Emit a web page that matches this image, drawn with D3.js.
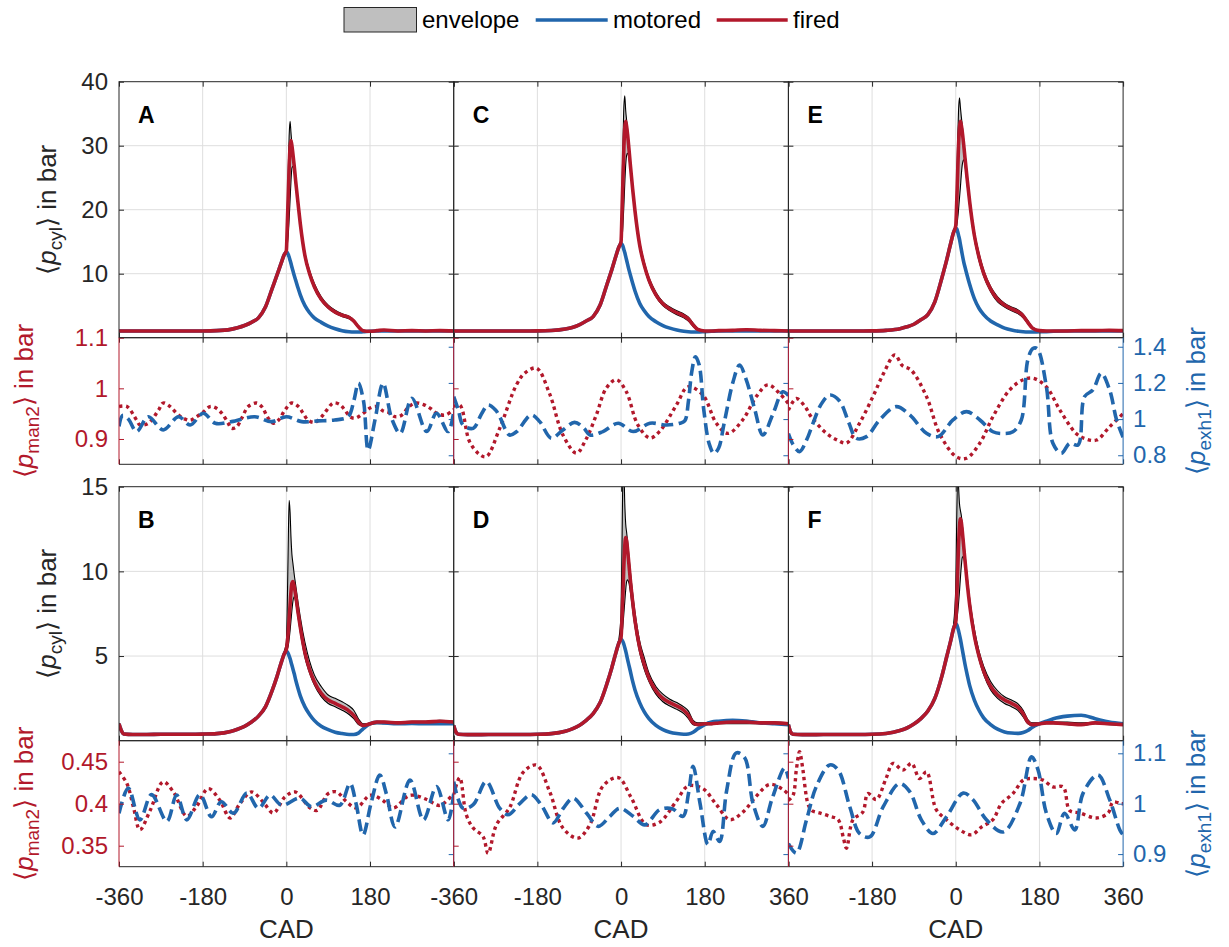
<!DOCTYPE html>
<html><head><meta charset="utf-8">
<script src="https://cdn.jsdelivr.net/npm/d3@7"></script>
<style>body{margin:0;background:#fff}svg{display:block}text{font-family:"Liberation Sans",Arial,Helvetica,sans-serif}</style>
</head><body><svg id="c" width="1229" height="947"></svg>
<script>
// ---------------- DATA ----------------
const CAD = [-360,-355,-350,-330,-300,-270,-240,-210,-180,-150,-120,-105,-90,-75,-60,-45,-30,-20,-10,-5,0,2,4,6,8,10,12,14,17,20,25,30,40,50,60,75,90,105,120,135,145,155,165,180,195,210,240,270,300,330,360];
const xTickValues = [-360,-180,0,180,360];
const panelLetters = ["A","C","E","B","D","F"];
const cylTicks = [[10,20,30,40],[5,10,15]];
const manTicks = [[0.9,1,1.1],[0.35,0.4,0.45]];
const exhTicks = [[0.8,1,1.2,1.4],[0.9,1,1.1]];
const cylDomain = [[0,40],[0,15]];
const manDomain = [[0.85,1.1],[0.325,0.475]];
const exhDomain = [[0.75,1.45],[0.875,1.125]];
const legendLabels = ["envelope","motored","fired"];

// Panel A
const motA = [1.05,1.05,1.05,1.04,1.04,1.04,1.04,1.04,1.05,1.1, 1.3,1.55,1.9,2.4,3.1,4.8,7.8,9.8,11.9,12.9, 13.4,13.3,13.0,12.6,12.1,11.6,11.0,10.5,9.7,9.0, 7.8,6.7,5.0,3.9,3.1,2.4,1.8,1.4,1.1,0.93, 0.88,0.88,0.92,1.0,1.05,1.06,1.05,1.05,1.04,1.05, 1.05];
const firA = [1.05,1.05,1.05,1.04,1.04,1.04,1.04,1.04,1.05,1.1, 1.3,1.55,1.9,2.4,3.1,4.8,7.8,9.8,11.9,12.9, 13.6,17.5,22,26.5,29.8,30.8,30,28.8,26.8,24.5, 21.1,17.8,12.8,10.0,8.0,6.0,4.8,4.0,3.5,3.15, 2.6,1.7,1.1,1.0,1.1,1.2,1.05,1.1,1.05,1.1, 1.05];
const envHiA = [1.07,1.07,1.07,1.06,1.06,1.06,1.06,1.06,1.07,1.12, 1.32,1.57,1.93,2.45,3.15,4.9,7.9,9.9,12.0,13.0, 14,20,26,31.5,33.8,32,30.2,29,27.2,25, 21.6,18.3,13.3,10.5,8.5,6.4,5.1,4.3,3.75,3.35, 2.8,1.9,1.2,1.05,1.15,1.25,1.1,1.15,1.1,1.15, 1.1];
const envLoA = [1.03,1.03,1.03,1.02,1.02,1.02,1.02,1.02,1.03,1.08, 1.28,1.52,1.87,2.35,3.05,4.7,7.7,9.7,11.8,12.8, 13.4,14.5,16,18.5,21.5,24.5,26.5,26.8,25.8,23.8, 20.6,17.3,12.4,9.7,7.7,5.8,4.6,3.8,3.3,2.95, 2.4,1.55,1.05,0.98,1.05,1.15,1.0,1.05,1.0,1.05, 1.0];
const manA = [[-360,0.964],[-343,0.964],[-322,0.937],[-315,0.928],[-297,0.931],[-275,0.957],[-265,0.971],[-250,0.964],[-236,0.951],[-222,0.941],[-207,0.937],[-193,0.944],[-179,0.953],[-164,0.964],[-153,0.962],[-139,0.951],[-125,0.931],[-118,0.921],[-107,0.924],[-96,0.941],[-82,0.964],[-64,0.971],[-53,0.964],[-39,0.941],[-28,0.931],[-17,0.937],[-3,0.957],[11,0.971],[26,0.964],[36,0.951],[47,0.937],[62,0.933],[76,0.944],[87,0.957],[101,0.971],[115,0.968],[126,0.957],[137,0.944],[148,0.941],[166,0.951],[180,0.961],[194,0.964],[209,0.955],[219,0.953],[234,0.944],[248,0.947],[262,0.962],[277,0.971],[295,0.968],[309,0.961],[323,0.951],[341,0.947],[356,0.955],[360,0.958]];
const exhA = [[-360,0.96],[-352,1.02],[-340,1.0],[-322,0.931],[-297,1.013],[-265,0.94],[-232,1.013],[-207,0.967],[-179,1.032],[-153,0.977],[-118,0.986],[-68,1.013],[-32,0.986],[0,1.013],[33,0.986],[68,0.99],[104,0.995],[133,1.013],[145,1.1],[155,1.198],[166,1.1],[176,0.829],[191,1.0],[208,1.198],[227,1.0],[245,0.921],[270,1.115],[302,0.931],[323,1.032],[348,0.931],[360,1.04]];

// Panel C
const motC = [1.05,1.05,1.05,1.05,1.05,1.05,1.05,1.05,1.06,1.12, 1.35,1.6,2.0,2.6,3.3,5.1,8.4,10.6,13.0,14.1, 14.7,14.6,14.3,13.8,13.3,12.7,12.1,11.5,10.6,9.8, 8.5,7.3,5.4,4.2,3.3,2.5,1.9,1.5,1.2,1.0, 0.93,0.9,0.9,0.95,1.0,1.05,1.05,1.06,1.05,1.05, 1.05];
const firC = [1.05,1.05,1.05,1.05,1.05,1.05,1.05,1.05,1.06,1.12, 1.35,1.6,2.0,2.6,3.3,5.1,8.4,10.6,13.0,14.1, 15.0,19.5,24.5,29.5,32.8,33.8,33,31.8,29.5,27, 23.2,19.8,14.5,11.3,9.0,6.7,5.3,4.5,3.9,3.4, 2.9,2.0,1.3,1.05,1.05,1.1,1.15,1.25,1.15,1.1, 1.05];
const envHiC = [1.07,1.07,1.07,1.07,1.07,1.07,1.07,1.07,1.08,1.14, 1.37,1.63,2.05,2.65,3.35,5.2,8.5,10.7,13.1,14.3, 15.5,23,30,36,37.8,35.5,34,32.6,30.3,27.6, 23.8,20.4,15.0,11.8,9.4,7.1,5.6,4.8,4.2,3.7, 3.2,2.3,1.45,1.1,1.12,1.18,1.22,1.32,1.22,1.15, 1.1];
const envLoC = [1.03,1.03,1.03,1.03,1.03,1.03,1.03,1.03,1.04,1.1, 1.33,1.57,1.95,2.55,3.25,5.0,8.3,10.5,12.9,14.0, 14.7,15.5,17.5,20.5,24,27,28.5,28.8,28,26.2, 22.6,19.2,14.0,10.9,8.6,6.4,5.0,4.2,3.6,3.1, 2.6,1.75,1.15,1.0,1.0,1.05,1.1,1.18,1.1,1.05, 1.0];
const manC = [[-360,0.964],[-347,0.967],[-326,0.895],[-305,0.87],[-290,0.865],[-261,0.921],[-225,1.007],[-207,1.03],[-182,1.04],[-154,0.99],[-125,0.908],[-96,0.872],[-75,0.9],[-53,0.948],[-32,1.0],[-10,1.017],[11,0.994],[36,0.928],[62,0.902],[83,0.915],[119,0.967],[144,1.003],[176,0.987],[205,0.931],[230,0.911],[262,0.938],[291,0.984],[316,1.007],[341,0.99],[360,0.97]];
const exhC = [[-360,1.124],[-350,1.05],[-340,0.967],[-318,0.949],[-300,1.03],[-286,1.078],[-270,1.05],[-261,1.013],[-240,0.912],[-225,0.93],[-193,1.023],[-175,0.986],[-150,0.894],[-125,0.94],[-100,0.982],[-80,0.95],[-67,0.912],[-39,0.931],[-6,0.977],[26,0.931],[62,0.977],[98,0.967],[126,0.977],[137,0.99],[145,1.1],[152,1.26],[160,1.345],[168,1.3],[178,1.05],[190,0.86],[200,0.81],[210,0.84],[222,0.98],[241,1.207],[255,1.299],[269,1.22],[287,1.06],[305,0.912],[327,1.03],[348,1.151],[360,1.13]];

// Panel E
const motE = [1.05,1.05,1.05,1.05,1.05,1.05,1.05,1.05,1.07,1.15, 1.4,1.7,2.1,2.8,3.6,5.6,9.3,12.0,15.0,16.4, 17.1,17.0,16.6,16.0,15.4,14.6,13.8,13.0,11.9,11.0, 9.6,8.3,6.1,4.6,3.6,2.6,2.0,1.5,1.2,1.0, 0.92,0.88,0.88,0.92,0.95,1.0,1.05,1.05,1.05,1.05, 1.05];
const firE = [1.05,1.05,1.05,1.05,1.05,1.05,1.05,1.05,1.07,1.15, 1.4,1.7,2.1,2.8,3.6,5.6,9.3,12.0,15.0,16.4, 17.5,21,25.5,30,32.8,33.8,33.2,32.2,30.2,28, 24.5,21.2,16.0,12.6,10.1,7.6,6.0,5.1,4.5,4.0, 3.4,2.4,1.5,1.1,1.05,1.05,1.05,1.1,1.1,1.15, 1.1];
const envHiE = [1.07,1.07,1.07,1.07,1.07,1.07,1.07,1.07,1.09,1.17, 1.42,1.73,2.15,2.85,3.65,5.7,9.4,12.1,15.1,16.6, 18,24,30.5,35.5,37.5,36,34.5,33.2,31,28.8, 25.2,21.9,16.6,13.2,10.6,8.0,6.4,5.4,4.8,4.3, 3.7,2.7,1.7,1.2,1.1,1.1,1.1,1.15,1.15,1.2, 1.15];
const envLoE = [1.03,1.03,1.03,1.03,1.03,1.03,1.03,1.03,1.05,1.13, 1.38,1.67,2.05,2.75,3.55,5.5,9.2,11.9,14.9,16.3, 17.1,17.5,18.5,20,21.8,23.5,25.5,27,27.8,26.8, 23.6,20.5,15.4,12.0,9.6,7.2,5.6,4.8,4.2,3.7, 3.1,2.2,1.35,1.0,1.0,1.0,1.0,1.05,1.05,1.1, 1.05];
const manE = [[-360,0.957],[-343,0.98],[-325,0.965],[-311,0.944],[-278,0.911],[-255,0.898],[-235,0.892],[-207,0.931],[-178,0.984],[-155,1.03],[-131,1.066],[-115,1.045],[-96,1.036],[-63,0.984],[-35,0.911],[1,0.865],[23,0.862],[52,0.892],[80,0.944],[116,0.997],[145,1.017],[166,1.02],[195,1.003],[224,0.957],[259,0.911],[280,0.9],[303,0.898],[331,0.924],[360,0.95]];
const exhE = [[-360,0.92],[-350,0.86],[-336,0.82],[-320,0.89],[-307,0.977],[-290,1.08],[-271,1.133],[-250,1.1],[-230,0.98],[-214,0.894],[-192,0.903],[-164,0.995],[-128,1.069],[-99,1.023],[-63,0.922],[-38,0.903],[-6,0.995],[23,1.041],[52,0.995],[80,0.93],[100,0.92],[123,0.93],[141,0.995],[155,1.327],[166,1.39],[175,1.39],[195,1.179],[209,0.866],[227,0.811],[245,0.866],[263,0.857],[277,1.124],[295,1.161],[313,1.253],[331,1.161],[346,0.995],[360,0.9]];

// Panel B
const motB = [1.0,0.6,0.4,0.37,0.37,0.38,0.38,0.38,0.39,0.42, 0.55,0.68,0.85,1.1,1.45,2.0,3.0,3.8,4.7,5.1, 5.3,5.25,5.15,5.0,4.85,4.65,4.45,4.25,3.95,3.6, 3.1,2.65,2.0,1.55,1.2,0.85,0.65,0.5,0.42,0.37, 0.37,0.45,0.7,1.0,1.08,1.05,1.0,1.02,1.0,1.0, 1.0];
const firB = [1.0,0.6,0.4,0.37,0.37,0.38,0.38,0.38,0.39,0.42, 0.55,0.68,0.85,1.1,1.45,2.0,3.0,3.8,4.7,5.1, 5.4,5.8,6.4,7.2,8.0,8.8,9.3,9.4,9.1,8.6, 7.6,6.7,5.2,4.2,3.5,2.8,2.4,2.2,2.0,1.75, 1.5,1.1,0.9,1.0,1.1,1.1,1.05,1.1,1.1,1.15, 1.1];
const envHiB = [1.05,0.65,0.42,0.39,0.39,0.4,0.4,0.4,0.41,0.45, 0.58,0.72,0.9,1.15,1.5,2.1,3.1,3.9,4.8,5.25, 5.8,8,11.5,14.2,13.5,12,11,10.5,9.8,9.2, 8.2,7.3,5.8,4.7,3.9,3.2,2.7,2.5,2.3,2.05, 1.8,1.3,1.0,1.05,1.15,1.15,1.1,1.15,1.15,1.2, 1.15];
const envLoB = [0.95,0.55,0.38,0.35,0.35,0.36,0.36,0.36,0.37,0.4, 0.52,0.65,0.8,1.05,1.4,1.9,2.9,3.7,4.6,5.0, 5.3,5.4,5.6,6.0,6.5,7.1,7.7,8.2,8.5,8.2, 7.3,6.4,4.9,4.0,3.3,2.6,2.2,2.0,1.8,1.55, 1.3,0.95,0.85,0.95,1.0,1.0,1.0,1.0,1.0,1.05, 1.0];
const manB = [[-360,0.438],[-343,0.424],[-329,0.396],[-315,0.369],[-293,0.392],[-265,0.426],[-243,0.414],[-214,0.385],[-193,0.397],[-168,0.418],[-143,0.404],[-121,0.383],[-100,0.4],[-75,0.414],[-50,0.402],[-28,0.389],[-3,0.408],[19,0.414],[51,0.395],[66,0.392],[90,0.412],[108,0.414],[130,0.402],[151,0.395],[180,0.41],[205,0.405],[230,0.395],[266,0.41],[302,0.405],[330,0.398],[360,0.412]];
const exhB = [[-360,0.981],[-340,1.031],[-315,0.968],[-290,1.018],[-257,0.965],[-236,1.017],[-214,0.968],[-186,1.018],[-161,0.974],[-140,1.004],[-114,0.981],[-85,1.021],[-60,0.991],[-35,1.017],[-10,0.997],[29,1.011],[54,0.994],[86,1.007],[115,0.997],[137,1.04],[150,1.0],[165,0.938],[182,1.0],[201,1.057],[215,1.02],[234,0.954],[266,1.047],[295,0.968],[323,1.034],[348,0.968],[360,1.02]];

// Panel D
const motD = [0.9,0.5,0.38,0.36,0.36,0.37,0.37,0.37,0.38,0.42, 0.56,0.7,0.9,1.2,1.6,2.25,3.4,4.3,5.3,5.75, 6.0,5.95,5.85,5.7,5.5,5.3,5.05,4.8,4.45,4.1, 3.5,3.0,2.25,1.7,1.3,0.9,0.65,0.5,0.42,0.38, 0.4,0.5,0.7,0.95,1.1,1.15,1.2,1.15,1.05,1.0, 0.95];
const firD = [0.9,0.5,0.38,0.36,0.36,0.37,0.37,0.37,0.38,0.42, 0.56,0.7,0.9,1.2,1.6,2.25,3.4,4.3,5.3,5.75, 6.1,7.2,8.7,10.3,11.5,12.0,11.8,11.3,10.4,9.5, 8.2,7.1,5.5,4.5,3.7,2.95,2.5,2.25,2.05,1.8, 1.5,1.05,0.95,1.0,1.0,1.05,1.1,1.1,1.05,1.05, 1.0];
const envHiD = [0.95,0.55,0.4,0.38,0.38,0.39,0.39,0.39,0.4,0.45, 0.6,0.74,0.95,1.25,1.65,2.35,3.5,4.4,5.45,5.95, 7.5,11.5,15.5,16,14,12.8,12.3,11.8,10.9,10.0, 8.7,7.6,5.9,4.9,4.0,3.2,2.75,2.45,2.25,2.0, 1.75,1.2,1.05,1.05,1.1,1.15,1.2,1.2,1.1,1.1, 1.05];
const envLoD = [0.85,0.45,0.36,0.34,0.34,0.35,0.35,0.35,0.36,0.4, 0.53,0.66,0.85,1.15,1.55,2.15,3.3,4.2,5.2,5.65, 6.0,6.3,6.8,7.5,8.2,8.9,9.4,9.5,9.3,8.8, 7.7,6.7,5.2,4.2,3.5,2.75,2.3,2.05,1.85,1.6, 1.3,0.95,0.9,0.95,0.95,1.0,1.0,1.0,1.0,1.0, 0.95];
const manD = [[-360,0.411],[-347,0.431],[-333,0.387],[-318,0.371],[-297,0.361],[-286,0.341],[-268,0.375],[-240,0.395],[-211,0.437],[-182,0.446],[-154,0.415],[-125,0.371],[-93,0.359],[-67,0.375],[-39,0.421],[-6,0.431],[22,0.407],[54,0.375],[83,0.378],[119,0.403],[144,0.421],[176,0.418],[205,0.399],[234,0.381],[262,0.39],[291,0.409],[320,0.423],[348,0.417],[360,0.411]];
const exhD = [[-360,1.044],[-340,0.991],[-318,0.998],[-290,1.044],[-261,0.991],[-243,0.978],[-218,1.0],[-193,1.018],[-172,0.998],[-146,0.962],[-125,0.99],[-103,1.011],[-74,0.981],[-49,0.955],[-24,0.975],[-3,0.991],[26,0.975],[51,0.958],[83,0.988],[110,0.99],[133,0.975],[145,1.02],[155,1.074],[170,1.0],[187,0.919],[198,0.945],[212,0.925],[227,1.025],[248,1.101],[266,1.091],[284,1.0],[305,0.955],[325,1.01],[352,1.071],[360,1.05]];

// Panel F
const motF = [0.95,0.5,0.38,0.36,0.36,0.37,0.37,0.37,0.38,0.43, 0.6,0.75,0.98,1.3,1.75,2.5,3.8,4.9,6.0,6.6, 6.9,6.85,6.7,6.5,6.25,6.0,5.7,5.4,4.95,4.5, 3.85,3.25,2.4,1.8,1.35,0.95,0.68,0.52,0.45,0.43, 0.48,0.6,0.8,1.0,1.15,1.3,1.45,1.5,1.3,1.1, 1.0];
const firF = [0.95,0.5,0.38,0.36,0.36,0.37,0.37,0.37,0.38,0.43, 0.6,0.75,0.98,1.3,1.75,2.5,3.8,4.9,6.0,6.6, 7.0,8.3,9.9,11.5,12.6,13.1,12.9,12.4,11.5,10.6, 9.2,8.0,6.2,5.0,4.1,3.2,2.7,2.4,2.2,1.95, 1.6,1.1,0.95,1.0,1.05,1.05,1.0,0.95,1.05,1.0, 0.95];
const envHiF = [1.0,0.55,0.4,0.38,0.38,0.39,0.39,0.39,0.4,0.46, 0.63,0.78,1.02,1.35,1.8,2.6,3.9,5.0,6.15,6.8, 9,13,15.5,15,14,13.6,13.3,12.8,11.9,11.0, 9.6,8.4,6.6,5.3,4.4,3.5,2.95,2.6,2.4,2.15, 1.8,1.25,1.05,1.05,1.1,1.1,1.1,1.05,1.1,1.05, 1.0];
const envLoF = [0.9,0.45,0.36,0.34,0.34,0.35,0.35,0.35,0.36,0.41, 0.57,0.72,0.95,1.25,1.7,2.4,3.7,4.8,5.9,6.5, 6.85,7.1,7.5,8.1,8.8,9.6,10.3,10.8,10.9,10.3, 9.0,7.8,6.0,4.8,3.9,3.0,2.5,2.2,2.0,1.75, 1.4,1.0,0.9,0.95,1.0,1.0,0.95,0.9,1.0,0.95, 0.9];
const manF = [[-360,0.404],[-350,0.41],[-343,0.44],[-336,0.462],[-330,0.445],[-318,0.4],[-310,0.392],[-293,0.389],[-271,0.385],[-253,0.381],[-242,0.36],[-235,0.347],[-221,0.381],[-200,0.39],[-189,0.412],[-171,0.405],[-150,0.43],[-135,0.448],[-114,0.44],[-95,0.448],[-78,0.43],[-63,0.438],[-42,0.393],[-20,0.381],[8,0.369],[34,0.363],[55,0.372],[80,0.381],[98,0.4],[123,0.412],[145,0.428],[166,0.43],[188,0.428],[209,0.42],[231,0.42],[245,0.392],[267,0.389],[302,0.383],[328,0.389],[338,0.402],[356,0.4],[360,0.4]];
const exhF = [[-360,0.921],[-343,0.902],[-321,0.968],[-300,1.034],[-271,1.077],[-253,1.067],[-228,0.994],[-207,0.941],[-185,0.934],[-156,0.994],[-121,1.04],[-99,1.024],[-74,0.968],[-49,0.941],[-20,0.974],[16,1.021],[37,1.008],[66,0.968],[102,0.944],[138,1.0],[163,1.093],[177,1.067],[195,0.981],[216,0.941],[234,0.981],[256,0.948],[274,1.021],[306,1.057],[331,1.008],[353,0.948],[360,0.938]];

// ---------------- DRAW ----------------
const RED = "#b2182b", BLUE = "#2166ac", AX = "#262626", GRID = "#dedede", ENV = "#bfbfbf";
const colX = [119, 453.7, 788.4], PW = 334.7;
const rows = [{top:81.7, mid:337.7, bot:464.3}, {top:486.7, mid:740.7, bot:866.7}];
const panels = [
  {row:0,col:0,mot:motA,fir:firA,hi:envHiA,lo:envLoA,man:manA,exh:exhA},
  {row:0,col:1,mot:motC,fir:firC,hi:envHiC,lo:envLoC,man:manC,exh:exhC},
  {row:0,col:2,mot:motE,fir:firE,hi:envHiE,lo:envLoE,man:manE,exh:exhE},
  {row:1,col:0,mot:motB,fir:firB,hi:envHiB,lo:envLoB,man:manB,exh:exhB},
  {row:1,col:1,mot:motD,fir:firD,hi:envHiD,lo:envLoD,man:manD,exh:exhD},
  {row:1,col:2,mot:motF,fir:firF,hi:envHiF,lo:envLoF,man:manF,exh:exhF}
];
const svg = d3.select("#c");
const defs = svg.append("defs");
const LW = 3.6;

function styleAxis(sel, color) {
  sel.select(".domain").remove();
  sel.selectAll(".tick line").attr("stroke", color).attr("stroke-width", 1);
  sel.selectAll(".tick text").attr("fill", color).attr("font-size", 24)
     .attr("font-family", '"Liberation Sans", Arial, sans-serif');
}

panels.forEach((p, pi) => {
  const x0 = colX[p.col], r = rows[p.row];
  const x = d3.scaleLinear().domain([-360, 360]).range([x0, x0 + PW]);
  const yC = d3.scaleLinear().domain(cylDomain[p.row]).range([r.mid, r.top]);
  const yM = d3.scaleLinear().domain(manDomain[p.row]).range([r.bot, r.mid]);
  const yE = d3.scaleLinear().domain(exhDomain[p.row]).range([r.bot, r.mid]);
  const g = svg.append("g");
  const cT = "cT" + pi, cB = "cB" + pi;
  defs.append("clipPath").attr("id", cT).append("rect").attr("x", x0).attr("y", r.top).attr("width", PW).attr("height", r.mid - r.top);
  defs.append("clipPath").attr("id", cB).append("rect").attr("x", x0).attr("y", r.mid).attr("width", PW).attr("height", r.bot - r.mid);

  // grids
  [-180, 0, 180].forEach(v => {
    g.append("line").attr("x1", x(v)).attr("x2", x(v)).attr("y1", r.top).attr("y2", r.bot)
      .attr("stroke", GRID).attr("stroke-width", 1);
  });
  cylTicks[p.row].filter(v => v < cylDomain[p.row][1]).forEach(v => {
    g.append("line").attr("x1", x0).attr("x2", x0 + PW).attr("y1", yC(v)).attr("y2", yC(v))
      .attr("stroke", GRID).attr("stroke-width", 1);
  });

  // top: envelope + curves
  const top = g.append("g").attr("clip-path", `url(#${cT})`);
  const pts = CAD.map((c, i) => ({c, hi: p.hi[i], lo: p.lo[i], m: p.mot[i], f: p.fir[i]}));
  top.append("path").datum(pts).attr("fill", ENV)
    .attr("d", d3.area().x(d => x(d.c)).y0(d => yC(d.lo)).y1(d => yC(d.hi)).curve(d3.curveMonotoneX));
  ["hi", "lo"].forEach(k => {
    top.append("path").datum(pts).attr("fill", "none").attr("stroke", "#000").attr("stroke-width", 1.1)
      .attr("d", d3.line().x(d => x(d.c)).y(d => yC(d[k])).curve(d3.curveMonotoneX));
  });
  top.append("path").datum(pts).attr("fill", "none").attr("stroke", BLUE).attr("stroke-width", LW)
    .attr("stroke-linejoin", "round")
    .attr("d", d3.line().x(d => x(d.c)).y(d => yC(d.m)).curve(d3.curveMonotoneX));
  top.append("path").datum(pts).attr("fill", "none").attr("stroke", RED).attr("stroke-width", LW)
    .attr("stroke-linejoin", "round")
    .attr("d", d3.line().x(d => x(d.c)).y(d => yC(d.f)).curve(d3.curveMonotoneX));

  // bottom: manifold + exhaust
  const bot = g.append("g").attr("clip-path", `url(#${cB})`);
  bot.append("path").datum(p.man).attr("fill", "none").attr("stroke", RED).attr("stroke-width", 3.4)
    .attr("stroke-dasharray", "3.4,3.6")
    .attr("d", d3.line().x(d => x(d[0])).y(d => yM(d[1])).curve(d3.curveCatmullRom.alpha(0.5)));
  bot.append("path").datum(p.exh).attr("fill", "none").attr("stroke", BLUE).attr("stroke-width", LW)
    .attr("stroke-dasharray", "12,5.5")
    .attr("d", d3.line().x(d => x(d[0])).y(d => yE(d[1])).curve(d3.curveCatmullRom.alpha(0.5)));

  // axes: top subplot
  const fmtNone = () => "";
  g.append("g").attr("transform", `translate(${x0},0)`)
    .call(d3.axisLeft(yC).tickValues(cylTicks[p.row]).tickSize(-5).tickSizeOuter(0).tickPadding(11)
      .tickFormat(p.col === 0 ? d3.format("") : fmtNone))
    .call(s => styleAxis(s, AX));
  g.append("g").attr("transform", `translate(${x0 + PW},0)`)
    .call(d3.axisRight(yC).tickValues(cylTicks[p.row]).tickSize(-5).tickSizeOuter(0).tickFormat(fmtNone))
    .call(s => styleAxis(s, AX));
  g.append("g").attr("transform", `translate(0,${r.top})`)
    .call(d3.axisTop(x).tickValues(xTickValues).tickSize(-5).tickSizeOuter(0).tickFormat(fmtNone))
    .call(s => styleAxis(s, AX));
  g.append("g").attr("transform", `translate(0,${r.mid})`)
    .call(d3.axisBottom(x).tickValues(xTickValues).tickSize(-5).tickSizeOuter(0).tickFormat(fmtNone))
    .call(s => styleAxis(s, AX));
  g.append("rect").attr("x", x0).attr("y", r.top).attr("width", PW).attr("height", r.mid - r.top)
    .attr("fill", "none").attr("stroke", AX).attr("stroke-width", 1);

  // axes: bottom subplot
  g.append("g").attr("transform", `translate(0,${r.mid})`)
    .call(d3.axisTop(x).tickValues(xTickValues).tickSize(-5).tickSizeOuter(0).tickFormat(fmtNone))
    .call(s => styleAxis(s, AX));
  const xLabFmt = v => {
    if (p.col === 0 && v === 360) return "";
    if (p.col === 2 && v === -360) return "";
    return String(v);
  };
  g.append("g").attr("transform", `translate(0,${r.bot})`)
    .call(d3.axisBottom(x).tickValues(xTickValues).tickSize(-5).tickSizeOuter(0).tickPadding(21)
      .tickFormat(p.row === 1 ? xLabFmt : fmtNone))
    .call(s => styleAxis(s, AX));
  g.append("g").attr("transform", `translate(${x0},0)`)
    .call(d3.axisLeft(yM).tickValues(manTicks[p.row]).tickSize(-5).tickSizeOuter(0).tickPadding(11)
      .tickFormat(p.col === 0 ? d3.format("") : fmtNone))
    .call(s => styleAxis(s, RED));
  g.append("g").attr("transform", `translate(${x0 + PW},0)`)
    .call(d3.axisRight(yE).tickValues(exhTicks[p.row]).tickSize(-5).tickSizeOuter(0).tickPadding(10)
      .tickFormat(p.col === 2 ? d3.format("") : fmtNone))
    .call(s => styleAxis(s, BLUE));
  g.append("line").attr("x1", x0).attr("x2", x0 + PW).attr("y1", r.mid).attr("y2", r.mid).attr("stroke", AX);
  g.append("line").attr("x1", x0).attr("x2", x0 + PW).attr("y1", r.bot).attr("y2", r.bot).attr("stroke", AX);
  g.append("line").attr("x1", x0 + PW).attr("x2", x0 + PW).attr("y1", r.mid).attr("y2", r.bot).attr("stroke", BLUE);
  g.append("line").attr("x1", x0).attr("x2", x0).attr("y1", r.mid).attr("y2", r.bot).attr("stroke", RED);

  // panel letter
  g.append("text").attr("x", x0 + 19).attr("y", r.top + 41).attr("font-size", 23).attr("font-weight", "bold")
    .attr("fill", "#000").text(panelLetters[pi]);

  // x label
  if (p.row === 1) {
    g.append("text").attr("x", x0 + PW / 2).attr("y", 938).attr("text-anchor", "middle")
      .attr("font-size", 26).attr("fill", AX).text("CAD");
  }

  // y labels
  function yLabel(xp, yc, sub, color) {
    const t = svg.append("text").attr("transform", `translate(${xp},${yc}) rotate(-90)`)
      .attr("text-anchor", "middle").attr("font-size", 26).attr("fill", color);
    t.append("tspan").text("\u27E8");
    t.append("tspan").attr("font-style", "italic").text("p");
    t.append("tspan").attr("font-size", 19).attr("dy", 6).text(sub);
    t.append("tspan").attr("dy", -6).text("\u27E9 in bar");
  }
  if (p.col === 0) {
    yLabel(56, (r.top + r.mid) / 2, "cyl", AX);
    yLabel(33, (r.mid + r.bot) / 2, "man2", RED);
  }
  if (p.col === 2) {
    yLabel(1205, (r.mid + r.bot) / 2, "exh1", BLUE);
  }
});

// legend
const lg = svg.append("g");
lg.append("rect").attr("x", 344).attr("y", 7.5).attr("width", 72.5).attr("height", 24.5)
  .attr("fill", ENV).attr("stroke", AX).attr("stroke-width", 1);
lg.append("text").attr("x", 422).attr("y", 27.5).attr("font-size", 24).attr("fill", "#000").text(legendLabels[0]);
lg.append("line").attr("x1", 535.7).attr("x2", 607.7).attr("y1", 20).attr("y2", 20).attr("stroke", BLUE).attr("stroke-width", LW);
lg.append("text").attr("x", 613).attr("y", 27.5).attr("font-size", 24).attr("fill", "#000").text(legendLabels[1]);
lg.append("line").attr("x1", 716.7).attr("x2", 787.7).attr("y1", 20).attr("y2", 20).attr("stroke", RED).attr("stroke-width", LW);
lg.append("text").attr("x", 793).attr("y", 27.5).attr("font-size", 24).attr("fill", "#000").text(legendLabels[2]);
</script>
</body></html>
